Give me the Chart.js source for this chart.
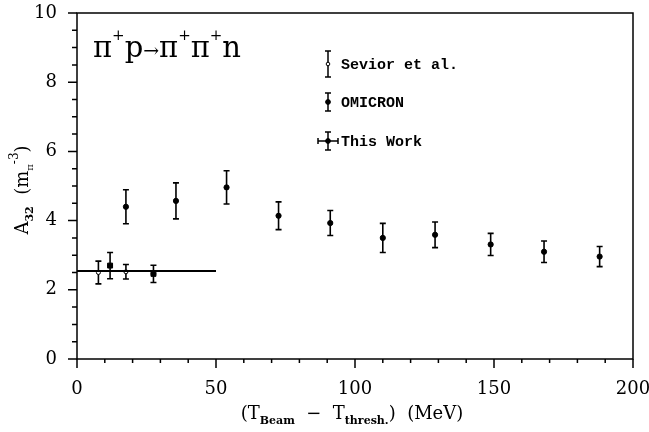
<!DOCTYPE html>
<html>
<head>
<meta charset="utf-8">
<script src="https://cdn.jsdelivr.net/npm/chart.js@4"></script>
<style>
  body { margin: 0; background: #fff; }
  #plot { display: block; }
</style>
</head>
<body>
<canvas id="plot" width="649" height="432"></canvas>
<script>
// Sevior et al. points
const sevX = [7.7, 17.6];
const sevY = [2.50, 2.52];
const sevErr = [0.33, 0.21];

// OMICRON points
const omiX = [17.6, 35.6, 53.8, 72.5, 91.1, 110.0, 128.8, 148.8, 168.0, 188.0];
const omiY = [4.40, 4.57, 4.96, 4.14, 3.93, 3.50, 3.59, 3.31, 3.10, 2.96];
const omiErr = [0.49, 0.52, 0.48, 0.40, 0.36, 0.42, 0.37, 0.32, 0.31, 0.29];

// this work
const twX = [11.9, 27.5];
const twY = [2.70, 2.46];
const twErr = [0.38, 0.25];
const twXErr = [1.0, 1.0];

// fitted constant
const fitX = [0, 50];
const fitY = [2.54, 2.54];

const xTicks = [0, 10, 20, 30, 40, 50, 60, 70, 80, 90, 100, 110, 120, 130, 140, 150, 160, 170, 180, 190, 200];
const xLabels = [0, 50, 100, 150, 200];
const yLabels = [0, 2, 4, 6, 8, 10];

const serif = "'DejaVu Serif', 'Liberation Serif', serif";

function pts(xs, ys) {
    return xs.map((x, i) => ({ x: x, y: ys[i] }));
}

function drawRuns(ctx, runs, x, y) {
    runs.forEach(r => {
        ctx.font = r.font;
        ctx.fillText(r.t, x, y + (r.dy || 0));
        x += ctx.measureText(r.t).width;
    });
    return x;
}

function runsWidth(ctx, runs) {
    let w = 0;
    runs.forEach(r => { ctx.font = r.font; w += ctx.measureText(r.t).width; });
    return w;
}

// vertical (and horizontal) error bars under the markers
const errorBars = {
    id: 'errorBars',
    beforeDatasetsDraw(chart) {
        const ctx = chart.ctx;
        const xs = chart.scales.x, ys = chart.scales.y;
        ctx.save();
        ctx.strokeStyle = '#000';
        ctx.lineWidth = 1.6;
        chart.data.datasets.forEach(ds => {
            if (!ds.errY) return;
            ds.data.forEach((p, i) => {
                const px = xs.getPixelForValue(p.x);
                const top = ys.getPixelForValue(p.y + ds.errY[i]);
                const bot = ys.getPixelForValue(p.y - ds.errY[i]);
                ctx.beginPath();
                ctx.moveTo(px, top); ctx.lineTo(px, bot);
                ctx.moveTo(px - 3, top); ctx.lineTo(px + 3, top);
                ctx.moveTo(px - 3, bot); ctx.lineTo(px + 3, bot);
                if (ds.errX) {
                    const py = ys.getPixelForValue(p.y);
                    ctx.moveTo(xs.getPixelForValue(p.x - ds.errX[i]), py);
                    ctx.lineTo(xs.getPixelForValue(p.x + ds.errX[i]), py);
                }
                ctx.stroke();
            });
        });
        ctx.restore();
    }
};

// frame, tick marks, titles, legend and reaction label
const decor = {
    id: 'decor',
    afterDraw(chart) {
        const ctx = chart.ctx;
        const a = chart.chartArea;
        const xs = chart.scales.x, ys = chart.scales.y;
        ctx.save();
        ctx.strokeStyle = '#000';
        ctx.lineWidth = 1.5;
        ctx.strokeRect(a.left, a.top, a.right - a.left, a.bottom - a.top);

        ctx.beginPath();
        xTicks.forEach(v => {
            const px = xs.getPixelForValue(v);
            const len = xLabels.includes(v) ? 9 : 4;
            ctx.moveTo(px, a.bottom); ctx.lineTo(px, a.bottom + len);
        });
        for (let v = 0; v <= 10; v += 0.5) {
            const py = ys.getPixelForValue(v);
            const len = yLabels.includes(v) ? 9 : 5;
            ctx.moveTo(a.left, py); ctx.lineTo(a.left - len, py);
        }
        ctx.stroke();

        ctx.fillStyle = '#000';
        ctx.textAlign = 'left';
        ctx.textBaseline = 'alphabetic';

        // reaction
        const big = '29px ' + serif, sup = '15px ' + serif;
        drawRuns(ctx, [
            { t: 'π', font: big }, { t: '+', font: sup, dy: -17 },
            { t: 'p', font: big }, { t: '→', font: '19px ' + serif },
            { t: 'π', font: big }, { t: '+', font: sup, dy: -17 },
            { t: 'π', font: big }, { t: '+', font: sup, dy: -17 },
            { t: 'n', font: big }
        ], 93, 57);

        // x title
        const f = '18px ' + serif, sub = 'bold 11px ' + serif;
        const xRuns = [
            { t: '(T', font: f }, { t: 'Beam', font: sub, dy: 5 },
            { t: '  −  T', font: f }, { t: 'thresh.', font: sub, dy: 5 },
            { t: ')  (MeV)', font: f }
        ];
        drawRuns(ctx, xRuns, 352 - runsWidth(ctx, xRuns) / 2, 419);

        // y title
        const yRuns = [
            { t: 'A', font: f }, { t: '32', font: 'bold 11px ' + serif, dy: 5 },
            { t: '  (m', font: f }, { t: 'π', font: '10px ' + serif, dy: 5 },
            { t: '-3', font: '12px ' + serif, dy: -10 }, { t: ')', font: f }
        ];
        ctx.translate(28, 190);
        ctx.rotate(-Math.PI / 2);
        drawRuns(ctx, yRuns, -runsWidth(ctx, yRuns) / 2, 0);
        ctx.setTransform(1, 0, 0, 1, 0, 0);

        // legend
        const items = [
            { label: 'Sevior et al.', y: 64, h: 13, open: true },
            { label: 'OMICRON', y: 102, h: 9 },
            { label: 'This Work', y: 141, h: 9, hbar: true }
        ];
        ctx.font = "bold 15px 'Liberation Mono', monospace";
        ctx.textBaseline = 'middle';
        items.forEach(it => {
            const bx = 328;
            ctx.beginPath();
            ctx.moveTo(bx, it.y - it.h); ctx.lineTo(bx, it.y + it.h);
            ctx.moveTo(bx - 3, it.y - it.h); ctx.lineTo(bx + 3, it.y - it.h);
            ctx.moveTo(bx - 3, it.y + it.h); ctx.lineTo(bx + 3, it.y + it.h);
            if (it.hbar) {
                ctx.moveTo(bx - 10, it.y); ctx.lineTo(bx + 10, it.y);
                ctx.moveTo(bx - 10, it.y - 3); ctx.lineTo(bx - 10, it.y + 3);
                ctx.moveTo(bx + 10, it.y - 3); ctx.lineTo(bx + 10, it.y + 3);
            }
            ctx.stroke();
            ctx.beginPath();
            ctx.arc(bx, it.y, it.open ? 1.8 : 2.4, 0, Math.PI * 2);
            ctx.fillStyle = it.open ? '#fff' : '#000';
            ctx.fill();
            ctx.lineWidth = 1;
            ctx.stroke();
            ctx.lineWidth = 1.5;
            ctx.fillStyle = '#000';
            ctx.fillText(it.label, 341, it.y + 1);
        });
        ctx.restore();
    }
};

new Chart(document.getElementById('plot'), {
    type: 'scatter',
    data: {
        datasets: [
            {
                label: 'fit',
                data: pts(fitX, fitY),
                showLine: true,
                borderColor: '#000',
                borderWidth: 2,
                pointRadius: 0,
            },
            {
                label: 'OMICRON',
                data: pts(omiX, omiY),
                errY: omiErr,
                pointStyle: 'circle',
                pointRadius: 2.6,
                backgroundColor: '#000',
                borderColor: '#000',
                borderWidth: 1,
            },
            {
                label: 'Sevior et al.',
                data: pts(sevX, sevY),
                errY: sevErr,
                pointStyle: 'circle',
                pointRadius: 2,
                backgroundColor: '#fff',
                borderColor: '#000',
                borderWidth: 1,
            },
            {
                label: 'This Work',
                data: pts(twX, twY),
                errY: twErr,
                errX: twXErr,
                pointStyle: 'rect',
                pointRadius: 3.5,
                backgroundColor: '#000',
                borderColor: '#000',
                borderWidth: 1,
            },
        ],
    },
    options: {
        responsive: false,
        animation: false,
        devicePixelRatio: 1,
        layout: { padding: { top: 13, right: 16, left: 0, bottom: 0 } },
        plugins: {
            legend: { display: false },
            tooltip: { enabled: false },
        },
        scales: {
            x: {
                type: 'linear',
                min: 0,
                max: 200,
                grid: { display: false },
                border: { display: false },
                afterBuildTicks: s => { s.ticks = xLabels.map(v => ({ value: v })); },
                afterFit: s => {
                    s.height = 73;
                    s.paddingLeft = 0;
                    s.paddingRight = 0;
                },
                ticks: {
                    color: '#000',
                    padding: 12,
                    maxRotation: 0,
                    autoSkip: false,
                    font: { family: serif, size: 18 },
                },
            },
            y: {
                type: 'linear',
                min: 0,
                max: 10,
                grid: { display: false },
                border: { display: false },
                afterBuildTicks: s => { s.ticks = yLabels.map(v => ({ value: v })); },
                afterFit: s => {
                    s.width = 77;
                    s.paddingTop = 0;
                    s.paddingBottom = 0;
                },
                ticks: {
                    color: '#000',
                    padding: 12,
                    autoSkip: false,
                    font: { family: serif, size: 18 },
                },
            },
        },
    },
    plugins: [errorBars, decor],
});
</script>
</body>
</html>
